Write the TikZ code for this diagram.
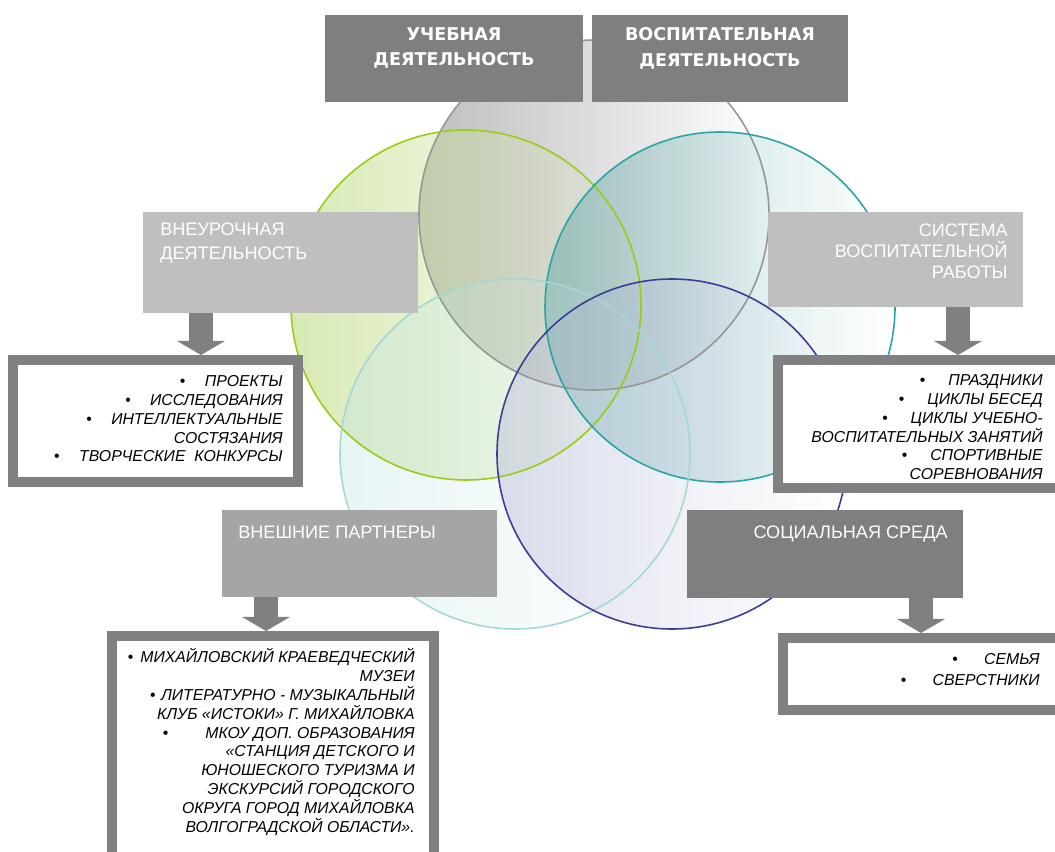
\documentclass[tikz,border=0pt]{standalone}
\usepackage{fontspec}
\setmainfont{Liberation Sans}
\newfontfamily\hdfont{DejaVu Sans}
\usetikzlibrary{arrows.meta,fit,fadings}

\definecolor{boxdark}{RGB}{127,127,127}
\definecolor{boxlight}{RGB}{191,191,191}
\definecolor{boxmid}{RGB}{165,165,165}
\definecolor{framegray}{RGB}{128,128,128}
\definecolor{ringgray}{RGB}{150,150,150}
\definecolor{ringgreen}{RGB}{153,204,20}
\definecolor{ringteal}{RGB}{40,165,165}
\definecolor{ringpale}{RGB}{165,215,215}
\definecolor{ringnavy}{RGB}{60,60,150}
\definecolor{fillgray}{RGB}{178,178,178}
\definecolor{fillgreen}{RGB}{200,225,150}
\definecolor{fillteal}{RGB}{80,160,160}
\definecolor{fillpale}{RGB}{195,228,228}
\definecolor{fillnavy}{RGB}{175,175,212}

\tikzfading[name=faderight, left color=transparent!15, right color=transparent!100]

\tikzset{
  ring/.style={line width=0.9pt},
  hdbox/.style={inner sep=0pt, outer sep=0pt},
  toplabel/.style={text=white, font=\hdfont\bfseries\fontsize{10}{14.7}\selectfont, align=center, inner sep=0pt, anchor=north},
  sidelabel/.style={text=white, font=\fontsize{10.3}{13.6}\selectfont, inner sep=0pt},
  listframe/.style={draw=framegray, line width=5.7pt, fill=white, inner sep=0pt},
  listtext/.style={font=\itshape\fontsize{9}{10.7}\selectfont, align=right, inner sep=0pt, anchor=north east},
  downarrow/.style={draw=framegray, line width=13.5pt, -{Triangle[width=27pt,length=8pt]}},
}
\newcommand{\itm}[1][11pt]{{\upshape •}\hspace{#1}}

\begin{document}
\begin{tikzpicture}[x=0.02cm, y=-0.02cm]
  \useasboundingbox (0,0) rectangle (1055,852);
  \clip (0,0) rectangle (1055,852);

  % circles
  \fill[fillgray, path fading=faderight] (594,215) circle (175);
  \fill[fillgreen, path fading=faderight, fill opacity=0.85] (466,305) circle (175);
  \fill[fillteal, path fading=faderight, fill opacity=0.5] (720,307) circle (175);
  \fill[fillpale, path fading=faderight, fill opacity=0.45] (515,454) circle (175);
  \fill[fillnavy, path fading=faderight, fill opacity=0.45] (672,454) circle (175);
  \draw[ring, ringgray] (594,215) circle (175);
  \draw[ring, ringgreen] (466,305) circle (175);
  \draw[ring, ringteal] (720,307) circle (175);
  \draw[ring, ringpale] (515,454) circle (175);
  \draw[ring, ringnavy] (672,454) circle (175);

  % headings
  \node[hdbox, fill=boxdark, fit={(325,15) (583,102)}] (ucheb) {};
  \node[hdbox, fill=boxdark, fit={(592,15) (848,102)}] (vosp) {};
  \node[hdbox, fill=boxlight, fit={(143,212) (418,313)}] (vneur) {};
  \node[hdbox, fill=boxlight, fit={(768,212) (1023,307)}] (sistema) {};
  \node[hdbox, fill=boxmid, fit={(222,510) (497,597)}] (vnesh) {};
  \node[hdbox, fill=boxdark, fit={(687,510) (963,598)}] (soc) {};

  \node[toplabel] (uchebT) at (454,27) {УЧЕБНАЯ\\ДЕЯТЕЛЬНОСТЬ};
  \node[toplabel] (vospT) at (720,27) {ВОСПИТАТЕЛЬНАЯ\\ДЕЯТЕЛЬНОСТЬ};
  \node[sidelabel, anchor=north west, align=left] (vneurT) at (160,222.5) {ВНЕУРОЧНАЯ\\ДЕЯТЕЛЬНОСТЬ};
  \node[sidelabel, anchor=north east, align=right, font=\fontsize{10.3}{11.9}\selectfont] (sistemaT) at (1008,223.5) {СИСТЕМА\\ВОСПИТАТЕЛЬНОЙ\\РАБОТЫ};
  \node[sidelabel, anchor=north west] (vneshT) at (238,525.5) {ВНЕШНИЕ ПАРТНЕРЫ};
  \node[sidelabel, anchor=north east] (socT) at (948,525.5) {СОЦИАЛЬНАЯ СРЕДА};

  % lists
  \node[listframe, fit={(13,360) (298,482)}] (proj) {};
  \node[listframe, fit={(778,360) (1062,488)}] (prazd) {};
  \node[listframe, fit={(112,636) (434,875)}] (muz) {};
  \node[listframe, fit={(783,638) (1062,710)}] (sem) {};

  \node[listtext] (projT) at (283,375.3) {\itm ПРОЕКТЫ\\
    \itm ИССЛЕДОВАНИЯ\\
    \itm ИНТЕЛЛЕКТУАЛЬНЫЕ\\
    СОСТЯЗАНИЯ\\
    \itm ТВОРЧЕСКИЕ\ \ КОНКУРСЫ};
  \node[listtext] (prazdT) at (1043,374.3) {\itm[13pt]ПРАЗДНИКИ\\
    \itm[13pt]ЦИКЛЫ БЕСЕД\\
    \itm[13pt]ЦИКЛЫ УЧЕБНО-\\
    ВОСПИТАТЕЛЬНЫХ ЗАНЯТИЙ\\
    \itm[13pt]СПОРТИВНЫЕ\\
    СОРЕВНОВАНИЯ};
  \node[listtext] (muzT) at (415,648.4) {\itm[4pt]МИХАЙЛОВСКИЙ КРАЕВЕДЧЕСКИЙ\\
    МУЗЕИ\\
    \itm[3pt]ЛИТЕРАТУРНО - МУЗЫКАЛЬНЫЙ\\
    КЛУБ «ИСТОКИ» Г. МИХАЙЛОВКА\\
    \itm[21pt]МКОУ ДОП. ОБРАЗОВАНИЯ\\
    «СТАНЦИЯ ДЕТСКОГО И\\
    ЮНОШЕСКОГО ТУРИЗМА И\\
    ЭКСКУРСИЙ ГОРОДСКОГО\\
    ОКРУГА ГОРОД МИХАЙЛОВКА\\
    ВОЛГОГРАДСКОЙ ОБЛАСТИ».};
  \node[listtext, font=\itshape\fontsize{9}{12}\selectfont] (semT) at (1040,653.3) {\itm[15pt]СЕМЬЯ\\
    \itm[15pt]СВЕРСТНИКИ};

  % arrows
  \draw[downarrow] (vneur.south -| 201,0) -- (proj.north -| 201,0);
  \draw[downarrow] (sistema.south -| 958,0) -- (prazd.north -| 958,0);
  \draw[downarrow] (vnesh.south -| 266,0) -- (muz.north -| 266,0);
  \draw[downarrow] (soc.south -| 921,0) -- (sem.north -| 921,0);
\end{tikzpicture}
\end{document}
